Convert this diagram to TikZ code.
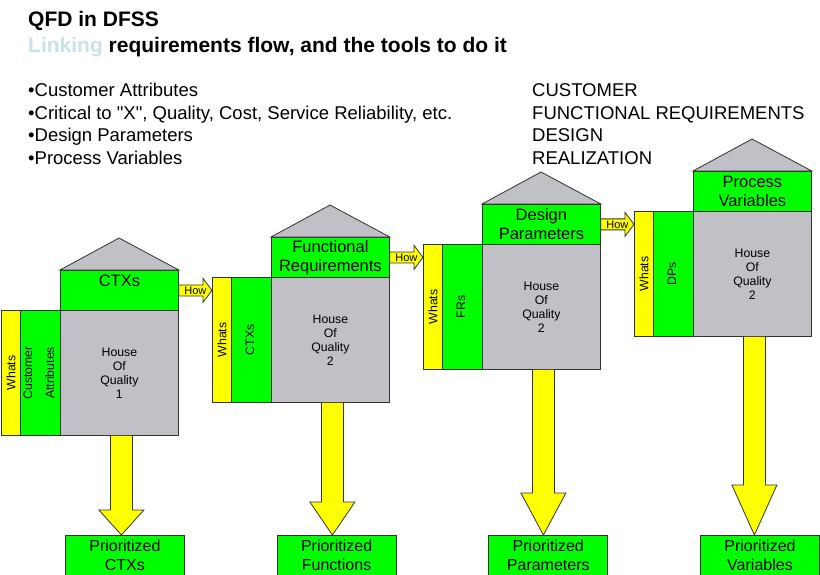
\documentclass[tikz,border=0pt]{standalone}
\usepackage{fontspec}
\setmainfont{Liberation Sans}[Ligatures=TeXOff]
\usepackage{xcolor}
\usepackage{graphicx}
\usetikzlibrary{calc}

\definecolor{hoqgreen}{HTML}{00FF00}
\definecolor{hoqyellow}{HTML}{FFFF00}
\definecolor{hoqgray}{HTML}{C0C0C6}
\definecolor{linkblue}{HTML}{C8E2E8}

\begin{document}
\begin{tikzpicture}[x=1pt, y=-1pt,
    hoqbox/.style={draw=black!80, line width=0.8pt, inner sep=0pt, anchor=north west, align=center},
    topbox/.style={hoqbox, fill=hoqgreen, minimum width=118, minimum height=40, font=\fontsize{16.5}{19}\selectfont},
    bodybox/.style={hoqbox, fill=hoqgray, minimum width=118, minimum height=125, font=\fontsize{12.3}{14}\selectfont},
    whatsbox/.style={hoqbox, fill=hoqyellow, minimum width=19, minimum height=125, font=\fontsize{12.3}{14}\selectfont},
    sidebox/.style={hoqbox, fill=hoqgreen, minimum width=40, minimum height=125, font=\fontsize{12.3}{14}\selectfont},
    priobox/.style={hoqbox, fill=hoqgreen, minimum width=119, minimum height=40, font=\fontsize{16}{19.5}\selectfont},
    roof/.style={fill=hoqgray, draw=black!80, line width=0.8pt},
    fatarrow/.style={fill=hoqyellow, draw=black!80, line width=0.8pt, line join=miter},
    howtext/.style={inner sep=0pt, font=\fontsize{11}{13}\selectfont},
    headline/.style={anchor=base west, inner sep=0pt, font=\fontsize{21}{24}\selectfont\bfseries},
    listitem/.style={anchor=base west, inner sep=0pt, font=\fontsize{18.5}{21}\selectfont}]
    % basics
    \fill[white] (0,0) rectangle (820,575);
    \useasboundingbox (0,0) rectangle (820,575);

    % text
    \node[headline] (title) at (28,27) {QFD in DFSS};
    \node[headline] (subtitle) at (28,53) {\textcolor{linkblue}{Linking} requirements flow, and the tools to do it};
    \foreach \t [count=\i] in {Customer Attributes, {Critical to "X", Quality, Cost, Service Reliability, etc.}, Design Parameters, Process Variables}
        \node[listitem] (item\i) at (28,{74.6+22.4*\i}) {•\t};
    \foreach \t [count=\i] in {CUSTOMER, FUNCTIONAL REQUIREMENTS, DESIGN, REALIZATION}
        \node[listitem] (level\i) at (532,{74.6+22.4*\i}) {\t};

    % houses of quality
    \foreach \k/\toptext/\sidetext/\hoq/\prio in {
        1/{CTXs\\\phantom{X}}/{Customer\\[8pt]Attributes}/1/{Prioritized\\CTXs},
        2/{Functional\\Requirements}/CTXs/2/{Prioritized\\Functions},
        3/{Design\\Parameters}/FRs/2/{Prioritized\\Parameters},
        4/{Process\\Variables}/DPs/2/{Prioritized\\Variables}}{
        \begin{scope}[shift={({211*(\k-1)},{-33*(\k-1)})}]
            \node[whatsbox] (whats\k) at (1,310) {\rotatebox{90}{Whats}};
            \node[sidebox] (side\k) at (20,310) {\rotatebox{90}{\begin{tabular}{@{}c@{}}\sidetext\end{tabular}}};
            \node[bodybox] (body\k) at (60,310) {House\\Of\\Quality\\\hoq};
            \node[topbox] (top\k) at (60,270) {\toptext};
            \filldraw[roof] (top\k.north west) -- ++(59,-32) -- (top\k.north east) -- cycle;
        \end{scope}
        \node[priobox] (prio\k) at ({65+211.7*(\k-1)},535) {\prio};
    }

    % arrows down
    \foreach \k/\hl in {1/25, 2/33, 3/42, 4/50}
        \draw[fatarrow] let \p1=($(body\k.south)+(2,0)$), \p2=(prio\k.north) in
            ({\x1-11pt},\y1) -- ({\x1-11pt},{\y2+\hl*1pt}) -- ({\x1-22.5pt},{\y2+\hl*1pt}) -- (\x1,\y2)
            -- ({\x1+22.5pt},{\y2+\hl*1pt}) -- ({\x1+11pt},{\y2+\hl*1pt}) -- ({\x1+11pt},\y1);

    % how arrows
    \foreach \k [count=\nx from 2] in {1,2,3}{
        \draw[fatarrow] let \p1=(top\k.east), \p2=(whats\nx.west) in
            (\x1,{\y1+5.5pt}) -- ({\x2-9pt},{\y1+5.5pt}) -- ({\x2-9pt},{\y1+12pt}) -- (\x2,\y1)
            -- ({\x2-9pt},{\y1-12pt}) -- ({\x2-9pt},{\y1-5.5pt}) -- (\x1,{\y1-5.5pt}) -- cycle;
        \node[howtext] (how\k) at ($(top\k.east)!0.5!(top\k.east -| whats\nx.west)$) {How};
    }
\end{tikzpicture}
\end{document}
